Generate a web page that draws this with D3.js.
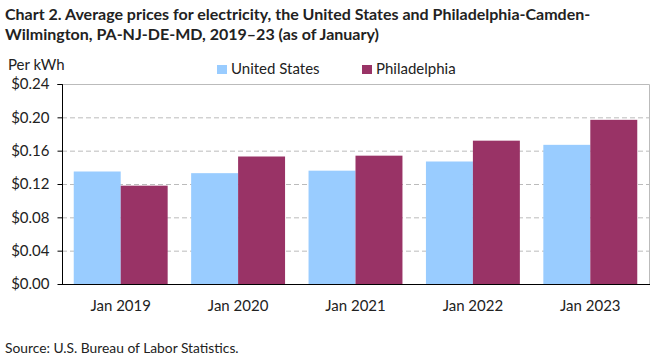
<!DOCTYPE html>
<html><head><meta charset="utf-8">
<script src="https://cdn.jsdelivr.net/npm/d3@7"></script>
<style>
body{margin:0;background:#fff;}
text{font-family:Lato,"Open Sans",sans-serif;}
</style></head>
<body><svg id="c" width="661" height="360"></svg>
<script>
const categories = ["Jan 2019","Jan 2020","Jan 2021","Jan 2022","Jan 2023"];
const seriesNames = ["United States","Philadelphia"];
const usValues = [0.135,0.133,0.136,0.147,0.167];
const phlValues = [0.118,0.153,0.154,0.172,0.197];
const yTicks = [0,0.04,0.08,0.12,0.16,0.20,0.24];
const colors = ["#99ccff","#993366"];

const svg = d3.select("#c");
const L=62,R=649,T=84,B=284;
const x = d3.scaleBand().domain(categories).range([L,R]).paddingInner(0.2).paddingOuter(0.1);
const xs = d3.scaleBand().domain(seriesNames).range([0,x.bandwidth()]);
const y = d3.scaleLinear().domain([0,0.24]).range([B,T]);

// title
const title = svg.append("text").attr("x",5).attr("font-weight","bold").attr("font-size",16).attr("fill","#222");
title.append("tspan").attr("x",5).attr("y",20).text("Chart 2. Average prices for electricity, the United States and Philadelphia-Camden-");
title.append("tspan").attr("x",5).attr("y",40).text("Wilmington, PA-NJ-DE-MD, 2019–23 (as of January)");

// gridlines
svg.append("g").selectAll("line").data(yTicks.filter(d=>d>0&&d<0.24)).join("line")
 .attr("x1",L).attr("x2",R).attr("y1",d=>y(d)+0.5).attr("y2",d=>y(d)+0.5)
 .attr("stroke","#bbb").attr("stroke-dasharray","5,3");
// top & right border
svg.append("path").attr("d",`M${L},${y(0.24)+0.5}H${R+0.5}V${B}`).attr("fill","none").attr("stroke","#bbb");

// bars
const data = categories.map((c,i)=>({c, vals:[usValues[i],phlValues[i]]}));
const g = svg.append("g").selectAll("g").data(data).join("g").attr("transform",d=>`translate(${x(d.c)},0)`);
g.selectAll("rect").data(d=>d.vals.map((v,j)=>({v,s:seriesNames[j],j}))).join("rect")
 .attr("x",d=>xs(d.s)).attr("width",xs.bandwidth()).attr("y",d=>y(d.v)).attr("height",d=>B-y(d.v))
 .attr("fill",d=>colors[d.j]);

// y axis
const ya = svg.append("g").attr("transform",`translate(${L+0.5},0)`)
 .call(d3.axisLeft(y).tickValues(yTicks).tickFormat(d3.format("$.2f")).tickSize(5).tickPadding(8));
ya.select(".domain").attr("stroke","#000").attr("d",`M-5,${T+0.5}H0V${B}`);
ya.selectAll(".tick line").attr("stroke","#000");
ya.selectAll(".tick text").attr("font-size",15).attr("fill","#222").attr("font-family","Lato,sans-serif");

// x axis
const xa = svg.append("g").attr("transform",`translate(0,${B+0.5})`)
 .call(d3.axisBottom(x).tickSize(0).tickPadding(16));
xa.select(".domain").attr("stroke","#000").attr("d",`M${L},0H${R+1}`);
xa.selectAll(".tick text").attr("font-size",15).attr("fill","#222").attr("font-family","Lato,sans-serif");

// y label
svg.append("text").attr("x",8).attr("y",70).attr("font-size",15).attr("fill","#222").text("Per kWh");

// legend
const legX=[217,362];
const lg = svg.append("g").selectAll("g").data(seriesNames).join("g").attr("transform",(d,i)=>`translate(${legX[i]},0)`);
lg.append("rect").attr("x",0).attr("y",65).attr("width",10).attr("height",9).attr("fill",(d,i)=>colors[i]);
lg.append("text").attr("x",14).attr("y",74).attr("font-size",15).attr("fill","#222").text(d=>d);

// source
svg.append("text").attr("x",5).attr("y",353).attr("font-size",13.8).attr("fill","#222").text("Source: U.S. Bureau of Labor Statistics.");
</script></body></html>
